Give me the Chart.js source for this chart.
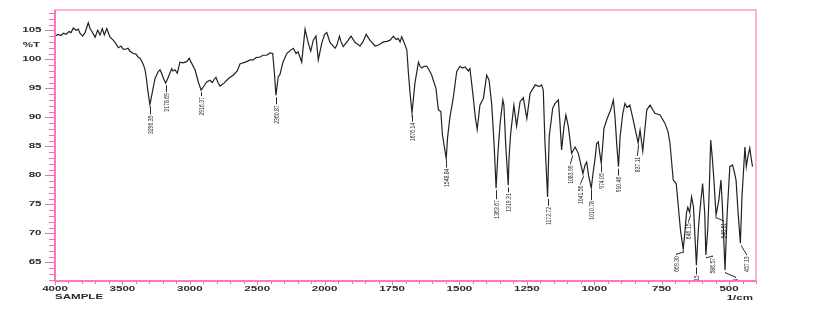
<!DOCTYPE html>
<html lang="en">
<head>
  <meta charset="UTF-8">
  <title>IR spectrum - SAMPLE</title>
  <script src="https://cdn.jsdelivr.net/npm/chart.js"></script>
  <style>
    body { margin: 0; background: #fff; }
    canvas { display: block; }
  </style>
</head>
<body>
  <canvas id="irChart" width="815" height="315"></canvas>

  <script>
    // spectrum (wavenumber in 1/cm, %T)
    const wavenumbers = [
      4000, 3978, 3955, 3938, 3918, 3896, 3881, 3864, 3844, 3827, 3815, 3795, 3777, 3753, 3740, 3726,
      3703, 3683, 3666, 3649, 3634, 3616, 3603, 3592, 3568, 3551, 3530, 3510, 3496, 3481, 3458, 3444,
      3419, 3399, 3384, 3369, 3357, 3343, 3332, 3321, 3312, 3296, 3275, 3258, 3234, 3221, 3209, 3195,
      3179, 3160, 3134, 3125, 3110, 3093, 3073, 3051, 3023, 3004, 2993, 2961, 2937, 2916, 2895, 2875,
      2850, 2833, 2817, 2806, 2791, 2776, 2746, 2717, 2677, 2648, 2628, 2605, 2578, 2553, 2529, 2509,
      2479, 2457, 2430, 2405, 2385, 2372, 2361, 2344, 2331, 2309, 2281, 2257, 2232, 2212, 2197, 2183,
      2170, 2145, 2121, 2103, 2084, 2064, 2047, 2021, 2000, 1992, 1980, 1961, 1954, 1945, 1939, 1931,
      1917, 1902, 1887, 1869, 1858, 1846, 1832, 1813, 1798, 1782, 1769, 1757, 1745, 1735, 1727, 1720,
      1714, 1706, 1695, 1689, 1683, 1676, 1670, 1665, 1652, 1646, 1640, 1631, 1621, 1613, 1603, 1597,
      1587, 1578, 1569, 1563, 1549, 1544, 1535, 1523, 1510, 1498, 1489, 1479, 1467, 1461, 1450, 1441,
      1434, 1424, 1411, 1399, 1390, 1380, 1371, 1364, 1357, 1349, 1339, 1335, 1328, 1319, 1316, 1310,
      1298, 1288, 1275, 1263, 1250, 1238, 1219, 1204, 1195, 1189, 1183, 1173, 1167, 1154, 1145, 1133,
      1127, 1121, 1112, 1105, 1096, 1084, 1078, 1071, 1059, 1042, 1034, 1028, 1021, 1011, 1004, 997,
      991, 985, 980, 974, 968, 964, 952, 939, 929, 923, 916, 910, 904, 894, 886, 878,
      868, 855, 846, 837, 830, 820, 805, 793, 775, 756, 738, 726, 719, 707, 696, 688,
      680, 670, 664, 658, 653, 646, 639, 632, 627, 621, 614, 608, 598, 590, 586, 579,
      573, 568, 562, 556, 552, 548, 538, 530, 525, 521, 515, 507, 497, 487, 480, 474,
      467, 458, 452, 446, 441, 436, 429, 423, 418, 413
    ];
    const transmittance = [
      104.0, 104.3, 104.1, 104.5, 104.3, 104.8, 104.6, 105.4, 105.0, 105.2, 104.5, 104.0, 104.6, 106.3, 105.3, 104.8,
      103.8, 105.0, 104.2, 105.3, 104.2, 105.3, 104.5, 103.8, 103.3, 102.8, 102.0, 102.3, 101.8, 101.7, 101.9, 101.4,
      101.0, 100.9, 100.4, 100.2, 99.7, 99.0, 98.2, 96.5, 94.7, 92.2, 94.7, 96.7, 97.9, 98.2, 97.6, 96.7,
      95.9, 96.9, 98.4, 98.0, 98.2, 97.6, 99.5, 99.4, 99.6, 100.2, 99.6, 98.2, 96.1, 94.7, 95.4, 96.1,
      96.4, 96.0, 96.6, 96.9, 96.0, 95.4, 95.9, 96.6, 97.3, 98.0, 99.2, 99.4, 99.6, 99.9, 99.9, 100.3,
      100.4, 100.7, 100.7, 101.1, 101.0, 97.5, 93.8, 97.0, 97.4, 99.5, 101.0, 101.5, 101.9, 101.0, 101.3, 100.4,
      99.5, 105.2, 102.8, 101.4, 103.3, 104.0, 99.9, 102.8, 104.3, 104.6, 102.9, 101.9, 102.5, 104.0, 103.0, 102.2,
      103.0, 104.0, 102.9, 102.3, 103.0, 104.3, 103.3, 102.3, 102.5, 103.0, 103.1, 103.3, 104.0, 103.4, 103.6, 103.0,
      103.9, 103.0, 101.6, 97.5, 94.1, 90.8, 93.5, 95.9, 99.5, 98.8, 98.5, 98.8, 98.8, 98.2, 97.3, 96.4,
      95.0, 91.3, 91.0, 87.0, 82.9, 86.5, 90.1, 93.3, 97.9, 98.8, 98.5, 98.7, 98.0, 98.4, 94.0, 90.0,
      87.9, 92.1, 93.3, 97.3, 96.4, 92.1, 85.0, 77.8, 84.0, 89.0, 93.0, 92.1, 85.0, 78.3, 83.0, 87.2,
      92.1, 88.5, 92.7, 93.4, 89.8, 94.1, 95.6, 95.3, 95.6, 94.7, 86.0, 76.3, 86.7, 91.6, 92.4, 93.0,
      89.0, 84.4, 88.5, 90.4, 88.4, 83.8, 84.3, 84.9, 83.8, 80.3, 81.8, 82.3, 80.0, 77.8, 80.5, 82.9,
      85.5, 85.8, 84.0, 82.1, 85.5, 88.1, 89.8, 91.3, 93.0, 90.1, 85.0, 81.5, 86.7, 90.7, 92.4, 91.7,
      92.1, 89.5, 87.5, 85.6, 87.8, 84.2, 91.3, 92.1, 90.7, 90.4, 89.0, 87.5, 85.5, 79.2, 78.6, 74.6,
      70.5, 67.3, 70.0, 73.5, 74.5, 73.6, 76.3, 74.6, 70.0, 64.5, 70.6, 74.0, 78.6, 73.4, 66.3, 70.6,
      78.0, 86.1, 83.0, 79.2, 76.0, 73.2, 75.7, 79.2, 75.0, 70.6, 63.7, 73.4, 81.5, 81.8, 80.5, 79.2,
      74.0, 68.3, 76.3, 81.0, 84.9, 81.5, 83.5, 84.7, 83.0, 81.5
    ];

    // picked peaks
    const peakWavenumbers = [3296.35, 3178.69, 2916.37, 2360.87, 1676.14, 1548.84, 1363.67, 1319.31, 1172.72, 1083.99, 1041.56,
      1010.78, 974.05, 910.46, 837.11, 669.30, 646.15, 621.15, 586.57, 548.81, 514.94, 457.13];
    const peakT = [92.2, 95.9, 94.7, 93.8, 90.8, 82.9, 77.8, 78.3, 76.3, 83.8, 80.3,
      77.8, 82.1, 81.5, 85.6, 67.3, 73.6, 64.5, 66.3, 73.2, 63.7, 68.3];
    const peakText = ['3296.35', '3178.69', '2916.37', '2360.87', '1676.14', '1548.84', '1363.67', '1319.31', '1172.72', '1083.99', '1041.56',
      '1010.78', '974.05', '910.46', '837.11', '669.30', '646.15', '621.15', '586.57', '548.81', '514.94', '457.13'];

    const xTickLabels = [4000, 3500, 3000, 2500, 2000, 1750, 1500, 1250, 1000, 750, 500];
    const yTickLabels = [65, 70, 75, 80, 85, 90, 95, 100, 105];

    // label placement tweaks (px): dx sideways, gap below the peak tip
    const labelNudge = {
      '3296.35': { dx: 0, gap: 11 }, '2916.37': { dx: 0, gap: 7 }, '1363.67': { dx: 0, gap: 12 },
      '1319.31': { dx: 0, gap: 8 }, '1083.99': { dx: -2, gap: 12 }, '1041.56': { dx: -3, gap: 12 },
      '1010.78': { dx: 0, gap: 13 }, '837.11': { dx: -1, gap: 14 }, '669.30': { dx: -7, gap: 7 },
      '646.15': { dx: -2, gap: 11 }, '586.57': { dx: 6, gap: 3 }, '548.81': { dx: 7, gap: 8 },
      '514.94': { dx: 10, gap: 9 }, '457.13': { dx: 5, gap: 13 }
    };

    const PINK = 'rgb(255, 102, 180)';
    const INK = '#2a2a2a';

    // split wavenumber axis: 4000-2000 compressed 2x, 2000-400 expanded
    function toAxis(w) {
      return w >= 2000 ? (4000 - w) / 2 : 1000 + (2000 - w);
    }

    function wideText(ctx, text, x, y, align) {
      ctx.save();
      ctx.translate(x, y);
      ctx.scale(1.65, 1);
      ctx.textAlign = align;
      ctx.textBaseline = 'middle';
      ctx.fillText(text, 0, 0);
      ctx.restore();
    }

    const peakLabels = {
      id: 'peakLabels',
      afterDatasetsDraw(chart) {
        const { ctx, chartArea: a, scales: { x, y } } = chart;
        ctx.save();
        ctx.beginPath();
        ctx.rect(a.left, a.top, a.right - a.left, a.bottom - a.top);
        ctx.clip();
        ctx.strokeStyle = INK;
        ctx.fillStyle = INK;
        ctx.lineWidth = 1;
        ctx.font = '8px "Liberation Sans", Arial, sans-serif';
        peakWavenumbers.forEach((w, i) => {
          const n = labelNudge[peakText[i]] || { dx: 0, gap: 10 };
          const px = Math.round(x.getPixelForValue(toAxis(w))) + 0.5;
          const tip = y.getPixelForValue(peakT[i]);
          const top = tip + n.gap;
          const tx = px + n.dx;
          ctx.beginPath();
          ctx.moveTo(px, tip + 2);
          if (n.dx !== 0) {
            ctx.lineTo(px, tip + 3);
            ctx.lineTo(tx, top - 2);
          }
          ctx.lineTo(tx, top - 1);
          ctx.stroke();
          ctx.save();
          ctx.translate(tx, top);
          ctx.rotate(-Math.PI / 2);
          ctx.scale(0.64, 1);
          ctx.textAlign = 'right';
          ctx.textBaseline = 'middle';
          ctx.fillText(peakText[i], 0, 0);
          ctx.restore();
        });
        ctx.restore();
      }
    };

    const frameAxes = {
      id: 'frameAxes',
      afterDraw(chart) {
        const { ctx, chartArea: a, scales: { x, y } } = chart;
        ctx.save();
        ctx.strokeStyle = PINK;
        ctx.lineWidth = 1;
        ctx.strokeRect(a.left, a.top, a.right - a.left, a.bottom - a.top);
        ctx.lineWidth = 1.5;
        ctx.beginPath();
        ctx.moveTo(a.left, a.top);
        ctx.lineTo(a.left, a.bottom);
        ctx.lineTo(a.right, a.bottom);
        ctx.stroke();

        // y ticks every 1 %T, long ones every 5
        ctx.lineWidth = 1;
        ctx.beginPath();
        for (let v = Math.ceil(y.min); v <= y.max; v++) {
          const py = Math.round(y.getPixelForValue(v)) + 0.5;
          ctx.moveTo(a.left - (v % 5 === 0 ? 10 : 6), py);
          ctx.lineTo(a.left, py);
        }
        // x ticks every 50 axis units
        for (let u = x.min; u <= x.max; u += 50) {
          const px = Math.round(x.getPixelForValue(u)) + 0.5;
          ctx.moveTo(px, a.bottom);
          ctx.lineTo(px, a.bottom + (u % 250 === 0 ? 4 : 3));
        }
        ctx.stroke();

        ctx.fillStyle = INK;
        ctx.font = 'bold 7px "Liberation Sans", Arial, sans-serif';
        yTickLabels.forEach(v => wideText(ctx, String(v), a.left - 13.5, y.getPixelForValue(v), 'right'));
        wideText(ctx, '%T', a.left - 15, y.getPixelForValue(102.5), 'right');
        xTickLabels.forEach(w => wideText(ctx, String(w), x.getPixelForValue(toAxis(w)), a.bottom + 8.5, 'center'));
        wideText(ctx, 'SAMPLE', a.left, a.bottom + 16.5, 'left');
        wideText(ctx, '1/cm', a.right - 3, a.bottom + 17, 'right');
        ctx.restore();
      }
    };

    const points = wavenumbers.map((w, i) => ({ x: toAxis(w), y: transmittance[i] }));

    new Chart(document.getElementById('irChart'), {
      type: 'line',
      data: {
        datasets: [{
          data: points,
          borderColor: '#222',
          borderWidth: 1.2,
          pointRadius: 0,
          tension: 0,
          fill: false
        }]
      },
      options: {
        responsive: false,
        animation: false,
        layout: { padding: { left: 55, top: 10, right: 59, bottom: 34 } },
        plugins: { legend: { display: false }, tooltip: { enabled: false } },
        scales: {
          x: { type: 'linear', min: 0, max: 2600, display: false },
          y: { min: 61.8, max: 108.5, display: false }
        }
      },
      plugins: [peakLabels, frameAxes]
    });
  </script>
</body>
</html>
